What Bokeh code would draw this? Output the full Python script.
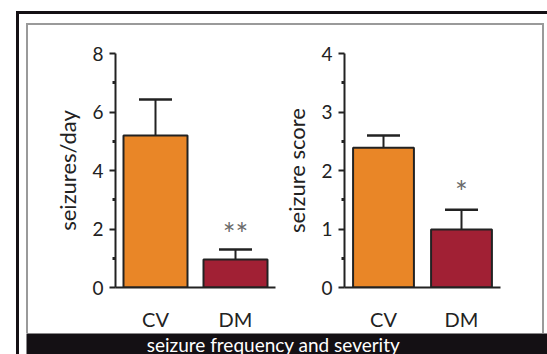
from bokeh.plotting import figure
from bokeh.layouts import row, column
from bokeh.models import (FactorRange, Range1d, FixedTicker, Whisker, TeeHead,
                          ColumnDataSource, Label, Spacer, Div)
from bokeh.core.properties import value
from bokeh.embed import file_html
from bokeh.resources import INLINE

groups = ["CV", "DM"]
bar_colors = ["#E98627", "#A12034"]

freq_mean = [5.2, 0.96]
freq_err = [1.23, 0.34]
freq_sig = ["", "**"]
freq_ticks = [0, 2, 4, 6, 8]
freq_minor = [1, 3, 5, 7]

score_mean = [2.39, 0.99]
score_err = [0.21, 0.34]
score_sig = ["", "*"]
score_ticks = [0, 1, 2, 3, 4]
score_minor = [0.5, 1.5, 2.5, 3.5]

band_title = "seizure frequency and severity"

FONT = "Lato"
INK = "#222222"
BLACK = "#141014"
GRAY = "#9a9a9a"


def block(w, h, color):
    return Div(text="", width=w, height=h, margin=(0, 0, 0, 0),
               styles={"background-color": color, "padding": "0",
                       "overflow": "hidden"})


def panel(means, errs, sig, ticks, minor, ylabel, width, border_left, border_right,
          bar_w, sig_offset):
    src = ColumnDataSource(dict(
        x=groups, top=means, upper=[m + e for m, e in zip(means, errs)],
        lower=means, color=bar_colors, sig=sig))
    p = figure(width=width, height=308, x_range=FactorRange(*groups),
               y_range=Range1d(ticks[0], ticks[-1]),
               output_backend="svg", toolbar_location=None,
               min_border_left=border_left, min_border_right=border_right,
               min_border_top=28, min_border_bottom=46,
               background_fill_color="white", border_fill_color="white")
    p.outline_line_color = None
    p.grid.visible = False
    p.x_range.range_padding = 0
    p.vbar(x="x", top="top", bottom=0, width=bar_w, source=src,
           fill_color="color", line_color=INK, line_width=2)
    w = Whisker(base="x", upper="upper", lower="lower", source=src,
                line_color=INK, line_width=2,
                upper_head=TeeHead(size=33, line_color=INK, line_width=2.5),
                lower_head=None)
    p.add_layout(w)
    p.text(x="x", y="upper", text="sig", source=src, y_offset=sig_offset,
           text_align="center", text_baseline="middle",
           text_font=value(FONT), text_font_size="30px", text_color="#6a6a6a")

    ya = p.yaxis[0]
    ya.ticker = FixedTicker(ticks=ticks, minor_ticks=minor)
    ya.axis_line_color = INK
    ya.axis_line_width = 2
    ya.major_tick_line_color = INK
    ya.major_tick_line_width = 2
    ya.major_tick_out = 6
    ya.major_tick_in = 0
    ya.minor_tick_line_color = INK
    ya.minor_tick_line_width = 3
    ya.minor_tick_out = 3
    ya.minor_tick_in = 0
    ya.major_label_text_font = FONT
    ya.major_label_text_font_size = "19px"
    ya.major_label_text_color = INK
    ya.major_label_standoff = 6
    ya.axis_label = ylabel
    ya.axis_label_text_font = FONT
    ya.axis_label_text_font_style = "normal"
    ya.axis_label_text_font_size = "22px"
    ya.axis_label_text_color = INK
    ya.axis_label_standoff = 8

    xa = p.xaxis[0]
    xa.axis_line_color = INK
    xa.axis_line_width = 2
    xa.major_tick_line_color = None
    xa.minor_tick_line_color = None
    xa.major_label_text_font = FONT
    xa.major_label_text_font_size = "20px"
    xa.major_label_text_color = INK
    xa.major_label_standoff = 13
    return p


left = panel(freq_mean, freq_err, freq_sig, freq_ticks, freq_minor,
             "seizures/day", 252, 87, 5, 0.8, -16)
right = panel(score_mean, score_err, score_sig, score_ticks, score_minor,
              "seizure score", 262, 62, 42, 0.78, -19)

band = figure(width=521, height=21, x_range=Range1d(0, 521), y_range=Range1d(0, 21),
              output_backend="svg", toolbar_location=None,
              min_border=0, background_fill_color=BLACK, border_fill_color=BLACK)
band.axis.visible = False
band.grid.visible = False
band.outline_line_color = None
band.add_layout(Label(x=247, y=10.5, text=band_title, text_align="center",
                      text_baseline="middle", text_color="white",
                      text_line_height=1.0,
                      text_font=FONT, text_font_size="19px"))

gray_panel = row(
    block(2, 308 + 2, GRAY),
    column(block(514, 2, GRAY), row(left, right)),
    block(2, 308 + 2, GRAY),
)

inside = column(
    Spacer(height=9),
    row(Spacer(width=7), column(gray_panel, band)),
)

layout = column(
    Spacer(height=11),
    row(Spacer(width=16), block(3, 343, BLACK),
        column(block(528, 3, BLACK), inside)),
)

html = file_html(layout, INLINE)
html = html.replace(
    "<head>",
    "<head><style>html,body{margin:0;padding:0;overflow:hidden;}</style>", 1)
open("out.html", "w").write(html)
